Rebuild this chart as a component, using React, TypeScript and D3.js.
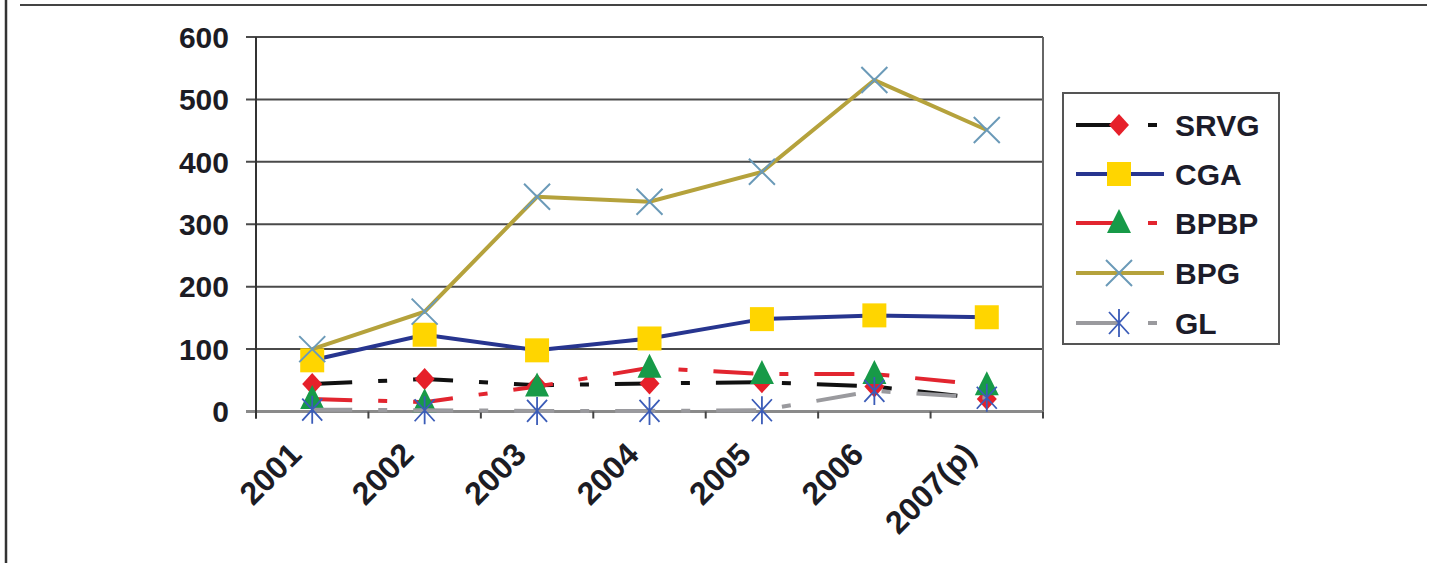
import React, { useEffect, useRef } from "react";
import * as d3 from "d3";

// categories and values
const years = ["2001", "2002", "2003", "2004", "2005", "2006", "2007(p)"];
const yTicks = [0, 100, 200, 300, 400, 500, 600];

const srvg = [44, 52, 42, 45, 47, 40, 20];
const cga = [82, 123, 98, 117, 148, 154, 151];
const bpbp = [20, 15, 40, 70, 60, 60, 42];
const bpg = [100, 160, 344, 336, 384, 531, 451];
const gl = [3, 2, 1, 1, 2, 33, 22];

const seriesNames = ["SRVG", "CGA", "BPBP", "BPG", "GL"];

export default function App() {
  const ref = useRef<SVGSVGElement>(null);

  useEffect(() => {
    document.body.style.margin = "0";
    const svg = d3.select(ref.current);
    svg.selectAll("*").remove();

    const width = 1430,
      height = 563;
    const left = 256,
      right = 1043,
      top = 37,
      bottom = 411.5;

    const x = d3.scaleBand().domain(years).range([left, right]);
    const y = d3.scaleLinear().domain([0, 600]).range([bottom, top]);
    const cx = (d: string) => (x(d) as number) + x.bandwidth() / 2;

    svg.append("rect").attr("width", width).attr("height", height).attr("fill", "#fff");

    // frame of the page
    svg.append("line").attr("x1", 6).attr("x2", 6).attr("y1", 0).attr("y2", height)
      .attr("stroke", "#333").attr("stroke-width", 2.5);
    svg.append("line").attr("x1", 20).attr("x2", 1427).attr("y1", 5).attr("y2", 5)
      .attr("stroke", "#444").attr("stroke-width", 2);

    // gridlines
    svg.append("g")
      .selectAll("line")
      .data(yTicks.filter((t) => t > 0))
      .join("line")
      .attr("x1", left - 10)
      .attr("x2", right)
      .attr("y1", (d) => y(d))
      .attr("y2", (d) => y(d))
      .attr("stroke", "#4a4a4a")
      .attr("stroke-width", 2);

    // plot right border
    svg.append("line").attr("x1", right).attr("x2", right).attr("y1", top).attr("y2", bottom)
      .attr("stroke", "#666").attr("stroke-width", 2);

    // x axis line + ticks
    svg.append("line").attr("x1", left - 10).attr("x2", right).attr("y1", bottom).attr("y2", bottom)
      .attr("stroke", "#8a8a8a").attr("stroke-width", 3);
    svg.append("g")
      .selectAll("line")
      .data(years.concat(["end"]))
      .join("line")
      .attr("x1", (d, i) => left + i * x.bandwidth())
      .attr("x2", (d, i) => left + i * x.bandwidth())
      .attr("y1", bottom)
      .attr("y2", bottom + 7)
      .attr("stroke", "#444")
      .attr("stroke-width", 2);

    // y axis
    svg.append("line").attr("x1", left).attr("x2", left).attr("y1", top).attr("y2", bottom + 7)
      .attr("stroke", "#333").attr("stroke-width", 2);

    svg.append("g")
      .selectAll("text")
      .data(yTicks)
      .join("text")
      .attr("x", left - 27)
      .attr("y", (d) => y(d))
      .attr("text-anchor", "end")
      .attr("dy", "0.36em")
      .attr("font-family", "Liberation Sans, Arial, sans-serif")
      .attr("font-weight", "bold")
      .attr("font-size", 30)
      .attr("fill", "#1c1c24")
      .text((d) => d);

    svg.append("g")
      .selectAll("text")
      .data(years)
      .join("text")
      .attr("text-anchor", "end")
      .attr("transform", (d) => `translate(${cx(d) - 9},${bottom + 45}) rotate(-45)`)
      .attr("font-family", "Liberation Sans, Arial, sans-serif")
      .attr("font-weight", "bold")
      .attr("font-size", 32)
      .attr("fill", "#1c1c24")
      .text((d) => d);

    // markers
    const drawMarker = (g: any, kind: string, px: number, py: number) => {
      if (kind === "diamond") {
        g.append("path")
          .attr("d", `M${px},${py - 11}L${px + 10},${py}L${px},${py + 11}L${px - 10},${py}Z`)
          .attr("fill", "#e6202a");
      } else if (kind === "square") {
        g.append("rect").attr("x", px - 12).attr("y", py - 12).attr("width", 24).attr("height", 24)
          .attr("fill", "#ffd500");
      } else if (kind === "triangle") {
        g.append("path")
          .attr("d", `M${px},${py - 14}L${px + 12},${py + 10}L${px - 12},${py + 10}Z`)
          .attr("fill", "#179a48");
      } else if (kind === "x") {
        g.append("path")
          .attr("d", `M${px - 13},${py - 13}L${px + 13},${py + 13}M${px - 13},${py + 13}L${px + 13},${py - 13}`)
          .attr("stroke", "#6b9ab8").attr("stroke-width", 2).attr("fill", "none");
      } else if (kind === "star") {
        g.append("path")
          .attr("d", `M${px - 10},${py - 11}L${px + 10},${py + 11}M${px - 10},${py + 11}L${px + 10},${py - 11}M${px},${py - 14}L${px},${py + 14}`)
          .attr("stroke", "#3b5cb8").attr("stroke-width", 1.8).attr("fill", "none");
      }
    };

    const dashed = "40,26,9,26";
    const series = [
      { name: "SRVG", values: srvg, color: "#111", dash: dashed, marker: "diamond" },
      { name: "CGA", values: cga, color: "#27358f", dash: null, marker: "square" },
      { name: "BPBP", values: bpbp, color: "#e2252f", dash: dashed, marker: "triangle" },
      { name: "BPG", values: bpg, color: "#b5a23c", dash: null, marker: "x" },
      { name: "GL", values: gl, color: "#9a9a9e", dash: dashed, marker: "star" },
    ];

    const line = d3
      .line<number>()
      .x((d, i) => cx(years[i]))
      .y((d) => y(d));

    series.forEach((s) => {
      const g = svg.append("g");
      g.append("path")
        .attr("d", line(s.values))
        .attr("fill", "none")
        .attr("stroke", s.color)
        .attr("stroke-width", 4)
        .attr("stroke-dasharray", s.dash);
      s.values.forEach((v, i) => drawMarker(g, s.marker, cx(years[i]), y(v)));
    });

    // legend
    const legendRows = [125, 174, 223, 273, 323];
    const lg = svg.append("g");
    lg.append("rect").attr("x", 1063).attr("y", 93).attr("width", 216).attr("height", 251)
      .attr("fill", "#fff").attr("stroke", "#555").attr("stroke-width", 2);
    series.forEach((s, i) => {
      const ry = legendRows[i];
      lg.append("line")
        .attr("x1", 1076).attr("x2", 1164).attr("y1", ry).attr("y2", ry)
        .attr("stroke", s.color).attr("stroke-width", 4)
        .attr("stroke-dasharray", s.dash ? "42,30,9,40" : null);
      drawMarker(lg, s.marker, 1119, ry);
      lg.append("text")
        .attr("x", 1175).attr("y", ry).attr("dy", "0.36em")
        .attr("font-family", "Liberation Sans, Arial, sans-serif")
        .attr("font-weight", "bold").attr("font-size", 30).attr("fill", "#1c1c2a")
        .text(seriesNames[i]);
    });
  }, []);

  return <svg ref={ref} width={1430} height={563} style={{ display: "block" }}></svg>;
}
